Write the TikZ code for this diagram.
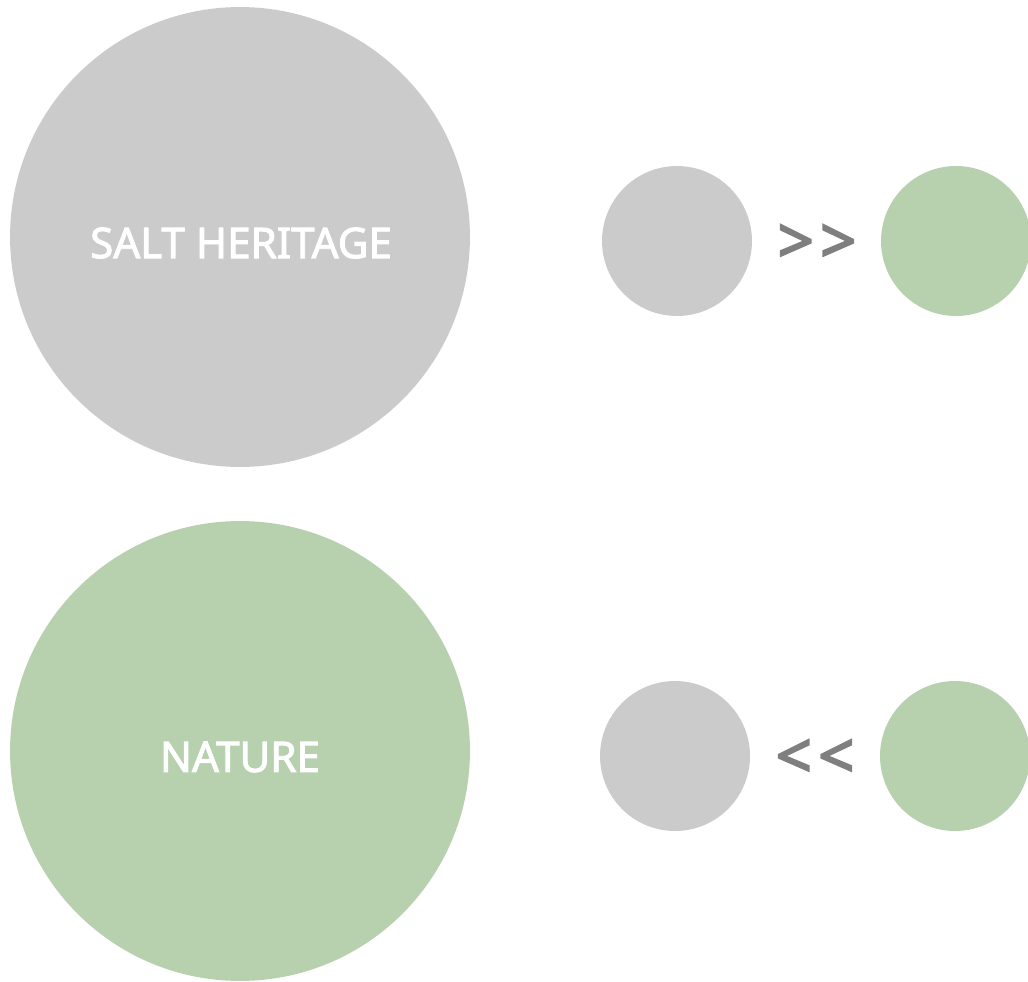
\documentclass[tikz,border=0pt]{standalone}
\usepackage{fontspec}
\setmainfont{Noto Sans}
\newfontfamily\labelfont[FakeBold=2.2]{Noto Sans}
\newfontfamily\signfont[FakeBold=3]{Noto Sans}
\usetikzlibrary{positioning}
\definecolor{saltgray}{HTML}{CBCBCB}
\definecolor{naturegreen}{HTML}{B7D1AF}
\definecolor{signgray}{HTML}{7F7F7F}

\begin{document}
\begin{tikzpicture}[
    x=0.02cm, y=-0.02cm,
    bigcircle/.style={
        circle,
        minimum size=9.2cm,
        inner sep=0pt,
        fill=#1,
    },
    bigtext/.style={
        text=white,
        font=\labelfont\fontsize{24}{28}\selectfont,
    },
    smallcircle/.style={
        circle,
        minimum size=3cm,
        inner sep=0pt,
        fill=#1,
    },
    sign/.style={
        text=signgray,
        font=\signfont\fontsize{36}{40}\selectfont,
    },
]

% Canvas
\useasboundingbox (0,0) rectangle (1028,981);
\clip (0,0) rectangle (1028,981);

% Large circles
\node[bigcircle=saltgray] (heritage) at (240,237) {};
\node[bigtext] (heritagetext) at (241,243) {SALT HERITAGE};
\node[bigcircle=naturegreen] (nature) at (240,751) {};
\node[bigtext] (naturetext) at (240,757) {NATURE};

% Top comparison
\node[smallcircle=saltgray] (topsalt) at (677,241) {};
\node[smallcircle=naturegreen] (topnature) at (956,241) {};
\node[sign] (topsign) at (817,244) {>\kern0.1em>};

% Bottom comparison
\node[smallcircle=saltgray] (botsalt) at (675,756) {};
\node[smallcircle=naturegreen] (botnature) at (955,756) {};
\node[sign] (botsign) at (815,759) {<\kern0.1em<};

\end{tikzpicture}
\end{document}
